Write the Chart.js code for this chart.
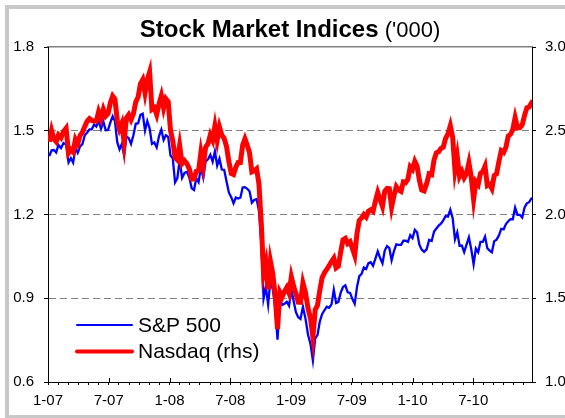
<!DOCTYPE html>
<html>
<head>
<meta charset="utf-8">
<script src="https://cdn.jsdelivr.net/npm/chart.js@4.4.1/dist/chart.umd.min.js"></script>
<style>
  html, body { margin: 0; padding: 0; background: #fff; }
  #wrap { position: relative; width: 565px; height: 418px; overflow: hidden; }
  #frame { position: absolute; left: 5px; top: 5px; width: 600px; height: 406px;
           border-left: 4px solid #c8c8c8; border-top: 4px solid #c8c8c8; border-bottom: 3px solid #c8c8c8; }
  canvas { position: absolute; left: 0; top: 0; }
</style>
</head>
<body>
<div id="wrap"><div id="frame"></div><canvas id="chart" width="565" height="418"></canvas></div>
<script>
// Weekly closes (Fridays), first week ending 5 Jan 2007.
const firstWeek = "2007-01-05";

const spx2007 = [1409,1430,1431,1422,1449,1438,1456,1451,1387,1402,1386,1437,1421,1444,1452,1484,1494,1505,1505,1522,1515,1536,1507,1533,1502,1503,1530,1552,1534,1459,1433,1453,1411,1479,1474,1453,1484,1525,1527,1557,1561,1500,1535,1509,1453,1458,1440,1481,1504,1467,1484,1478];
const spx2008 = [1411,1401,1315,1330,1395,1331,1349,1353,1331,1294,1288,1330,1316,1370,1332,1390,1398,1414,1389,1426,1375,1400,1361,1360,1318,1278,1262,1240,1261,1257,1260,1297,1298,1292,1283,1242,1252,1255,1213,1099,899,940,877,969,931,873,752,896,876,880,887,873];
const spx2009 = [932,890,850,832,826,869,827,770,735,677,756,768,816,843,857,870,866,878,930,883,887,919,940,946,921,919,897,880,940,979,987,1010,1005,1026,1029,1016,1042,1068,1044,1025,1071,1087,1080,1036,1069,1093,1091,1091,1106,1106,1102,1126,1115];
const spx2010 = [1145,1136,1092,1074,1066,1075,1109,1105,1139,1150,1160,1167,1179,1194,1192,1217,1187,1111,1136,1088,1089,1065,1092,1118,1076,1022,1078,1065,1102,1102,1121,1079,1071,1065,1104,1110,1125,1149,1147,1166,1176,1183,1183,1225,1199,1199,1189,1225,1240,1244,1257,1258];

const ndx2007 = [2434,2502,2452,2435,2475,2459,2496,2515,2368,2387,2373,2448,2422,2471,2491,2526,2557,2572,2562,2558,2557,2613,2573,2627,2588,2603,2667,2707,2688,2562,2511,2544,2430,2576,2596,2566,2602,2671,2701,2780,2805,2725,2804,2850,2627,2637,2596,2661,2709,2635,2691,2674];
const ndx2008 = [2504,2439,2340,2326,2413,2304,2321,2303,2271,2212,2212,2258,2261,2370,2290,2402,2422,2476,2445,2528,2444,2522,2474,2454,2406,2315,2245,2239,2282,2310,2310,2414,2452,2414,2368,2255,2261,2273,2183,1947,1649,1711,1552,1721,1647,1516,1316,1536,1509,1540,1564,1530];
const ndx2009 = [1628,1571,1529,1477,1476,1591,1534,1441,1378,1268,1431,1457,1545,1622,1652,1673,1694,1719,1739,1681,1692,1774,1849,1858,1827,1838,1797,1756,1886,1965,1979,2000,1985,2020,2028,2018,2080,2132,2090,2048,2139,2156,2154,2045,2112,2167,2147,2138,2194,2190,2212,2285,2269];
const ndx2010 = [2317,2288,2205,2147,2141,2184,2243,2238,2327,2368,2374,2395,2402,2454,2481,2530,2461,2265,2347,2229,2257,2219,2244,2309,2223,2091,2196,2179,2245,2255,2288,2173,2180,2154,2233,2242,2316,2381,2371,2402,2468,2479,2507,2578,2518,2518,2535,2592,2637,2642,2665,2653];

// Axis ticks
const leftTicks = [0.6, 0.9, 1.2, 1.5, 1.8];
const rightTicks = [1.0, 1.5, 2.0, 2.5, 3.0];
const monthTicks = Array.from({length: 48}, (_, i) => i); // months since Jan 2007

const FONT = "'Liberation Sans', Arial, sans-serif";

const spx = [...spx2007, ...spx2008, ...spx2009, ...spx2010];
const ndx = [...ndx2007, ...ndx2008, ...ndx2009, ...ndx2010];

// Date -> months since 1 Jan 2007
function monthsSince2007(d) {
  const y = d.getUTCFullYear(), m = d.getUTCMonth();
  const dim = new Date(Date.UTC(y, m + 1, 0)).getUTCDate();
  return (y - 2007) * 12 + m + (d.getUTCDate() - 1) / dim;
}

const start = new Date(firstWeek + "T00:00:00Z");
const weekX = spx.map((_, i) => monthsSince2007(new Date(start.getTime() + i * 7 * 86400000)));

const spxPoints = spx.map((v, i) => ({x: weekX[i], y: v / 1000}));
const ndxPoints = ndx.map((v, i) => ({x: weekX[i], y: v / 1000}));

// Title, legend and inner major ticks
const decorPlugin = {
  id: "decor",
  afterDraw(chart) {
    const {ctx, chartArea: a, scales} = chart;
    ctx.save();

    // title: bold part + normal part, centred over the plot
    const t1 = "Stock Market Indices", t2 = " ('000)";
    ctx.textBaseline = "alphabetic";
    ctx.fillStyle = "#000";
    ctx.font = "bold 24px " + FONT;
    const w1 = ctx.measureText(t1).width;
    ctx.font = "22px " + FONT;
    const w2 = ctx.measureText(t2).width;
    let tx = (a.left + a.right) / 2 - (w1 + w2) / 2;
    ctx.font = "bold 24px " + FONT;
    ctx.fillText(t1, tx, 37);
    ctx.font = "22px " + FONT;
    ctx.fillText(t2, tx + w1, 37);

    // major x ticks poke into the plot
    ctx.strokeStyle = "#000";
    ctx.lineWidth = 1;
    monthTicks.filter(m => m % 6 === 0).forEach(m => {
      const px = Math.round(scales.x.getPixelForValue(m)) + 0.5;
      ctx.beginPath();
      ctx.moveTo(px, a.bottom - 4);
      ctx.lineTo(px, a.bottom);
      ctx.stroke();
    });

    // legend inside plot, lower left
    const items = chart.data.datasets.map(ds => ({label: ds.label, color: ds.borderColor, w: ds.legendWidth}));
    const lx = a.left + 29, ly = a.bottom - 57;
    ctx.font = "21px " + FONT;
    ctx.textBaseline = "middle";
    items.forEach((it, i) => {
      const y = ly + i * 26.5;
      ctx.strokeStyle = it.color;
      ctx.lineWidth = it.w;
      ctx.lineCap = "round";
      ctx.beginPath();
      ctx.moveTo(lx, y);
      ctx.lineTo(lx + 55, y);
      ctx.stroke();
      ctx.fillStyle = "#000";
      ctx.fillText(it.label, lx + 61, y + 1);
    });
    ctx.restore();
  }
};

new Chart(document.getElementById("chart"), {
  type: "line",
  data: {
    datasets: [
      {label: "S&P 500", data: spxPoints, yAxisID: "yL", borderColor: "#0000ff", borderWidth: 2.3,
       legendWidth: 2, pointRadius: 0, tension: 0, order: 1},
      {label: "Nasdaq (rhs)", data: ndxPoints, yAxisID: "yR", borderColor: "#ff0000", borderWidth: 5,
       legendWidth: 4, pointRadius: 0, tension: 0, order: 0}
    ]
  },
  options: {
    responsive: false,
    animation: false,
    devicePixelRatio: 1,
    layout: {padding: {top: 47, left: 0, right: 0, bottom: 0}},
    plugins: {legend: {display: false}, title: {display: false}, tooltip: {enabled: false}},
    scales: {
      x: {
        type: "linear", position: "bottom", min: 0, max: 47.8,
        afterBuildTicks: s => { s.ticks = monthTicks.map(v => ({value: v})); },
        afterFit: s => { s.height = 36; },
        ticks: {
          autoSkip: false, maxRotation: 0, padding: 7, color: "#000", font: {family: FONT, size: 15},
          callback: v => v % 6 === 0 ? `${(v % 12) + 1}-${String(7 + Math.floor(v / 12)).padStart(2, "0")}` : ""
        },
        grid: {drawOnChartArea: false, tickLength: 3, tickColor: "#000"},
        border: {color: "#000", width: 1}
      },
      xTop: {
        type: "linear", position: "top", min: 0, max: 47.8,
        afterFit: s => { s.height = 0; },
        ticks: {display: false},
        grid: {display: false, drawTicks: false},
        border: {color: "#808080", width: 1.5}
      },
      yL: {
        type: "linear", position: "left", min: 0.6, max: 1.8,
        afterBuildTicks: s => { s.ticks = leftTicks.map(v => ({value: v})); },
        afterFit: s => { s.width = 48; },
        ticks: {padding: 10, color: "#000", font: {family: FONT, size: 15}, callback: v => v.toFixed(1)},
        grid: {
          color: c => (c.tick && c.tick.value > 0.65 && c.tick.value < 1.75) ? "#808080" : "rgba(0,0,0,0)",
          tickColor: "#000", tickLength: 4, lineWidth: 1
        },
        border: {color: "#000", width: 1, dash: [7, 4]}
      },
      yR: {
        type: "linear", position: "right", min: 1.0, max: 3.0,
        afterBuildTicks: s => { s.ticks = rightTicks.map(v => ({value: v})); },
        afterFit: s => { s.width = 33; },
        ticks: {padding: 9, color: "#000", font: {family: FONT, size: 15}, callback: v => v.toFixed(1)},
        grid: {drawOnChartArea: false, tickColor: "#000", tickLength: 4},
        border: {color: "#000", width: 1}
      }
    }
  },
  plugins: [decorPlugin]
});
</script>
</body>
</html>
